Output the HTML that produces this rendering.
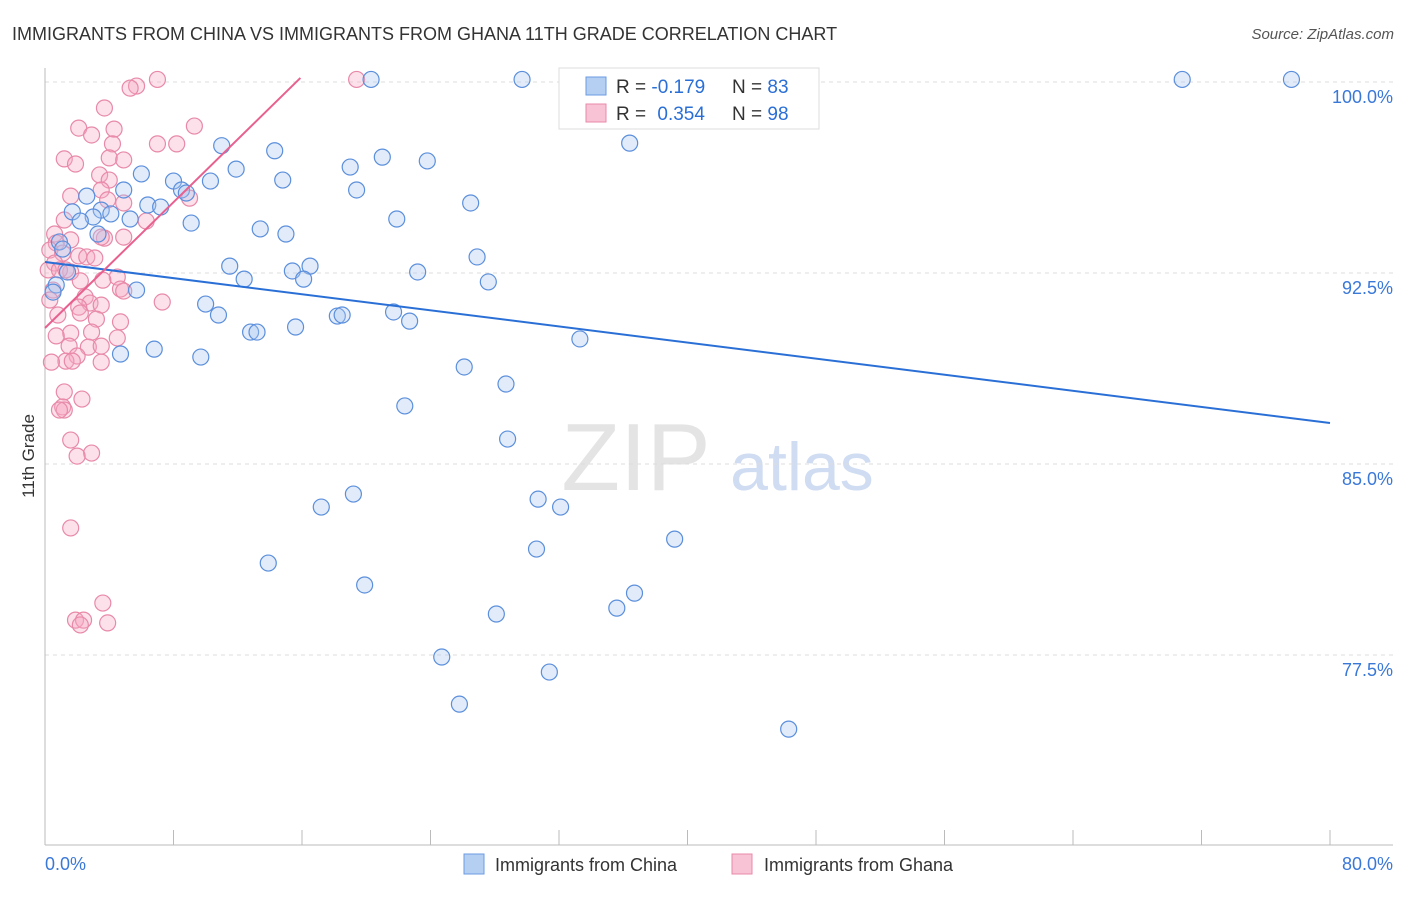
<!DOCTYPE html>
<html><head><meta charset="utf-8">
<style>
body{margin:0;background:#fff;font-family:"Liberation Sans",sans-serif;}
svg text{font-family:"Liberation Sans",sans-serif;}
</style></head>
<body>
<svg id="chart" width="1406" height="892" xmlns="http://www.w3.org/2000/svg">
<text x="12" y="40" font-size="18" fill="#333">IMMIGRANTS FROM CHINA VS IMMIGRANTS FROM GHANA 11TH GRADE CORRELATION CHART</text>
<text x="1394" y="39" font-size="15" fill="#555" text-anchor="end" font-style="italic">Source: ZipAtlas.com</text>
<text x="34" y="456" font-size="17" fill="#333" text-anchor="middle" transform="rotate(-90 34 456)">11th Grade</text>
<g>
<text x="636" y="490" font-size="96" fill="#e4e4e4" text-anchor="middle" font-family="Liberation Serif">ZIP</text>
<text x="802" y="490" font-size="68" fill="#cfdcf2" text-anchor="middle">atlas</text>
</g>
<g id="grid"></g>
<g id="axes"></g>
<g id="marks"></g>
<g id="lines"></g>
<g>
<rect x="559" y="68" width="260" height="61" fill="#fff" stroke="#ddd"/>
<rect x="586" y="77" width="20" height="18" fill="#b5cff3" stroke="#6a9be0"/>
<rect x="586" y="104" width="20" height="18" fill="#f8c3d4" stroke="#e889a8"/>
<text x="616" y="93" font-size="19" fill="#333">R = <tspan fill="#2a6fd6">-0.179</tspan></text>
<text x="732" y="93" font-size="19" fill="#333">N = <tspan fill="#2a6fd6">83</tspan></text>
<text x="616" y="120" font-size="19" fill="#333">R = <tspan fill="#2a6fd6" dx="6">0.354</tspan></text>
<text x="732" y="120" font-size="19" fill="#333">N = <tspan fill="#2a6fd6">98</tspan></text>
</g>
<g>
<rect x="464" y="854" width="20" height="20" fill="#b5cff3" stroke="#6a9be0"/>
<text x="495" y="871" font-size="18" fill="#333">Immigrants from China</text>
<rect x="732" y="854" width="20" height="20" fill="#f8c3d4" stroke="#e889a8"/>
<text x="764" y="871" font-size="18" fill="#333">Immigrants from Ghana</text>
</g>
</svg>
<script>
const chinaX=[32.9,20.3,29.7,70.8,77.6,11.0,36.4,14.3,21.0,23.8,19.0,11.9,6.0,14.8,8.0,10.3,8.5,19.4,4.9,8.8,2.6,6.4,7.2,26.5,1.7,3.5,4.1,3.0,5.3,2.2,9.1,21.9,13.4,15.0,3.3,0.9,1.1,26.9,11.5,15.4,16.5,23.2,1.4,12.4,16.1,27.6,0.7,5.7,0.5,10.0,10.8,18.2,18.5,21.7,22.7,15.6,12.8,13.2,33.3,6.8,4.7,9.7,26.1,28.7,22.4,28.8,19.2,17.2,30.7,32.1,39.2,30.6,13.9,19.9,36.7,35.6,28.1,24.7,31.4,25.8,46.3];
const chinaY=[100.1,100.1,100.1,100.1,100.1,97.5,97.6,97.3,97.05,96.9,96.66,96.58,96.39,96.15,96.11,96.11,95.76,95.76,95.76,95.64,95.52,95.17,95.09,95.25,94.9,94.97,94.82,94.7,94.62,94.54,94.46,94.62,94.23,94.03,94.03,93.72,93.44,93.13,92.77,92.58,92.77,92.54,92.54,92.26,92.26,92.15,92.03,91.83,91.75,91.28,90.85,90.81,90.85,90.97,90.61,90.38,90.18,90.18,89.91,89.51,89.32,89.2,88.81,88.14,87.28,85.98,83.82,83.31,83.62,83.31,82.05,81.66,81.11,80.25,79.93,79.34,79.11,77.42,76.83,75.57,74.59];
const ghanaX=[7.0,19.4,5.7,3.7,2.1,4.3,9.3,2.9,7.0,8.2,4.2,1.2,4.0,4.9,1.9,3.4,4.0,1.6,3.5,4.9,3.9,9.0,1.2,6.3,0.6,1.6,3.7,4.9,0.7,0.3,1.1,2.1,2.6,3.1,3.5,0.6,1.6,0.2,0.9,1.3,4.5,3.6,2.2,0.5,4.7,4.9,2.5,2.8,3.5,2.1,0.8,2.2,3.2,4.7,7.3,1.6,2.9,0.7,4.5,2.7,1.5,3.5,2.0,1.3,1.7,3.5,0.4,1.2,2.3,1.1,1.2,1.6,2.9,2.0,1.6,3.6,1.9,2.4,2.2,3.9,0.9,5.3,0.3];
const ghanaY=[100.1,100.1,99.84,98.98,98.19,98.15,98.27,97.92,97.57,97.57,97.57,96.98,97.02,96.94,96.78,96.35,96.15,95.52,95.76,95.25,95.37,95.44,94.58,94.54,94.03,93.8,93.87,93.91,93.68,93.4,93.28,93.17,93.13,93.09,93.91,92.89,92.54,92.62,92.62,92.62,92.34,92.22,92.19,91.83,91.87,91.79,91.56,91.32,91.24,91.16,90.85,90.93,90.69,90.58,91.36,90.14,90.18,90.03,89.95,89.59,89.63,89.63,89.24,89.04,89.04,89.0,89.0,87.83,87.55,87.24,87.12,85.94,85.43,85.31,82.49,79.54,78.87,78.87,78.68,78.76,87.12,99.76,91.44];
const trendChina=[0,92.93,80,86.61];
const trendGhana=[0,90.34,15.9,100.16];
const yTicks=[100,92.5,85,77.5];
const yTickLabels=["100.0%","92.5%","85.0%","77.5%"];
const xTicks=[0,8,16,24,32,40,48,56,64,72,80];

const NS="http://www.w3.org/2000/svg";
function sx(v){return 45+v/80*1285;}
function sy(v){return 82+(100-v)/7.5*191;}
function mk(tag,attrs,parent){const e=document.createElementNS(NS,tag);for(const k in attrs)e.setAttribute(k,attrs[k]);parent.appendChild(e);return e;}
const grid=document.getElementById('grid'),axes=document.getElementById('axes'),marks=document.getElementById('marks'),lines=document.getElementById('lines');
yTicks.forEach((t,i)=>{
 const l=mk('line',{x1:45,x2:1393,y1:sy(t),y2:sy(t),stroke:'#ddd','stroke-dasharray':'4,4'},grid);
 
 
 const tx=mk('text',{x:1393,y:sy(t)+21,'font-size':18,fill:'#3a78d8','text-anchor':'end'},axes);
 tx.textContent=yTickLabels[i];
 
 
});
const ya=mk('line',{x1:45,x2:45,y1:68,y2:845,stroke:'#bbb'},axes);


const xa=mk('line',{x1:45,x2:1393,y1:845,y2:845,stroke:'#bbb'},axes);


xTicks.forEach(t=>{
 const l=mk('line',{x1:sx(t),x2:sx(t),y1:830,y2:845,stroke:'#bbb'},axes);
 
 
});
const x0=mk('text',{x:45,y:870,'font-size':18,fill:'#3a78d8'},axes);x0.textContent='0.0%';


const x1=mk('text',{x:1393,y:870,'font-size':18,fill:'#3a78d8','text-anchor':'end'},axes);x1.textContent='80.0%';


function dots(X,Y,fill,stroke,name){
 X.forEach((v,i)=>{
  const c=mk('circle',{cx:sx(v),cy:sy(Y[i]),r:8,fill:fill,'fill-opacity':0.35,stroke:stroke,'stroke-width':1.2},marks);
  
  
 });
}
dots(ghanaX,ghanaY,'#f5a9c2','#e889a8','ghana-point');
dots(chinaX,chinaY,'#a9c7f0','#5b8fdc','china-point');
const lc=mk('line',{x1:sx(trendChina[0]),y1:sy(trendChina[1]),x2:sx(trendChina[2]),y2:sy(trendChina[3]),stroke:'#2a6fd6','stroke-width':2},lines);


const lg=mk('line',{x1:sx(trendGhana[0]),y1:sy(trendGhana[1]),x2:sx(trendGhana[2]),y2:sy(trendGhana[3]),stroke:'#e8608f','stroke-width':2},lines);


</script>
</body></html>
